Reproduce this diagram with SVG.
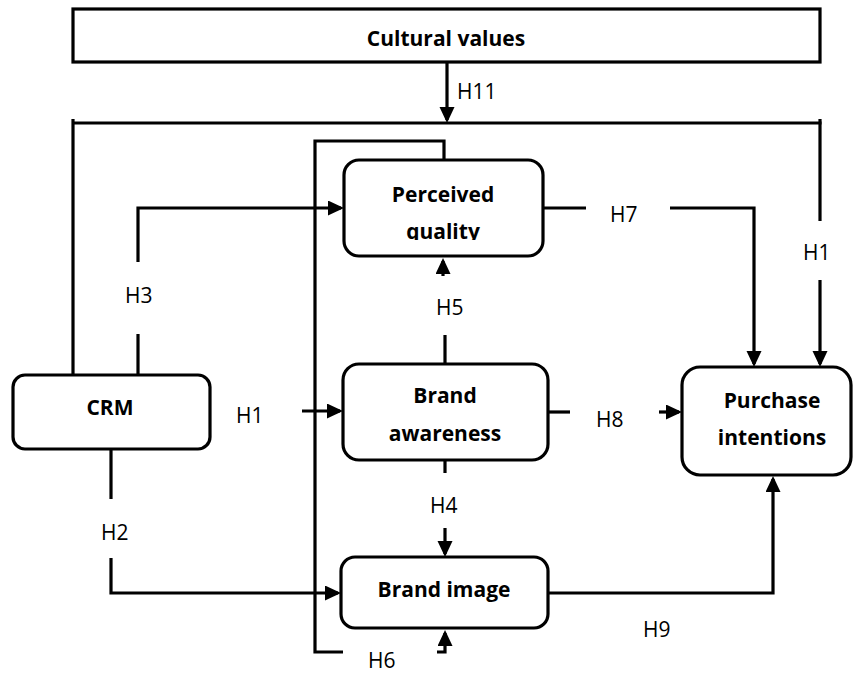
<svg xmlns="http://www.w3.org/2000/svg" width="854" height="673" viewBox="0 0 854 673">
<style>
.box{fill:#fff;stroke:#000;stroke-width:3.2}
.ln{fill:none;stroke:#000;stroke-width:3.2}
.arr{marker-end:url(#ah)}
.t{font-family:"Open Sans","Liberation Sans",sans-serif;font-size:21px;fill:#000}
.b{font-weight:bold;text-anchor:middle}
</style>
<defs>
<marker id="ah" markerUnits="userSpaceOnUse" markerWidth="18" markerHeight="16" refX="13" refY="7.5" orient="auto">
<path d="M0,0 L16,7.5 L0,15 z" fill="#000"/>
</marker>
<clipPath id="pqclip"><rect x="344" y="160" width="199" height="80"/></clipPath>
</defs>
<g id="connectors">
<path class="ln arr" d="M447,62 V120"/>
<path class="ln" d="M73,375 V119"/>
<path class="ln" d="M73,123 H821.5"/>
<path class="ln" d="M820,119 V221"/>
<path class="ln arr" d="M820,280 V364"/>
<path class="ln" d="M138,375 V334"/>
<path class="ln arr" d="M138,262 V208 H341"/>
<path class="ln arr" d="M302,411 H340"/>
<path class="ln" d="M111,449 V499"/>
<path class="ln arr" d="M111,558 V593 H338"/>
<path class="ln" d="M444,160 V141 H315 V652 H343"/>
<path class="ln arr" d="M437,652 H445 V633"/>
<path class="ln arr" d="M443,276 V261"/>
<path class="ln" d="M445,364 V335"/>
<path class="ln" d="M445,460 V473"/>
<path class="ln arr" d="M445,528 V554"/>
<path class="ln" d="M543,208 H586"/>
<path class="ln arr" d="M670,208 H754 V364"/>
<path class="ln" d="M548,412 H570"/>
<path class="ln arr" d="M659,412 H679"/>
<path class="ln arr" d="M548,593 H773 V479"/>
</g>
<g id="cultural-values">
<rect class="box" x="73" y="9" width="747" height="53"/>
<text class="t b" x="446" y="46">Cultural values</text>
</g>
<g id="perceived-quality">
<rect class="box" x="344" y="160" width="199" height="96" rx="15"/>
<text class="t b" x="443" y="202">Perceived</text>
<text class="t b" x="443" y="239" clip-path="url(#pqclip)">quality</text>
</g>
<g id="crm">
<rect class="box" x="13" y="375" width="197" height="74" rx="12"/>
<text class="t b" x="110" y="415">CRM</text>
</g>
<g id="brand-awareness">
<rect class="box" x="343" y="364" width="205" height="96" rx="16"/>
<text class="t b" x="445" y="403">Brand</text>
<text class="t b" x="445" y="441">awareness</text>
</g>
<g id="brand-image">
<rect class="box" x="341" y="557" width="207" height="71" rx="14"/>
<text class="t b" x="444" y="597">Brand image</text>
</g>
<g id="purchase-intentions">
<rect class="box" x="682" y="367" width="169" height="108" rx="18"/>
<text class="t b" x="772" y="408">Purchase</text>
<text class="t b" x="772" y="445">intentions</text>
</g>
<g id="labels">
<text class="t" x="457" y="99">H11</text>
<text class="t" x="125" y="303">H3</text>
<text class="t" x="236" y="423">H1</text>
<text class="t" x="101" y="540">H2</text>
<text class="t" x="436" y="315">H5</text>
<text class="t" x="430" y="513">H4</text>
<text class="t" x="368" y="668">H6</text>
<text class="t" x="610" y="222">H7</text>
<text class="t" x="803" y="260">H1</text>
<text class="t" x="596" y="427">H8</text>
<text class="t" x="643" y="637">H9</text>
</g>
</svg>
